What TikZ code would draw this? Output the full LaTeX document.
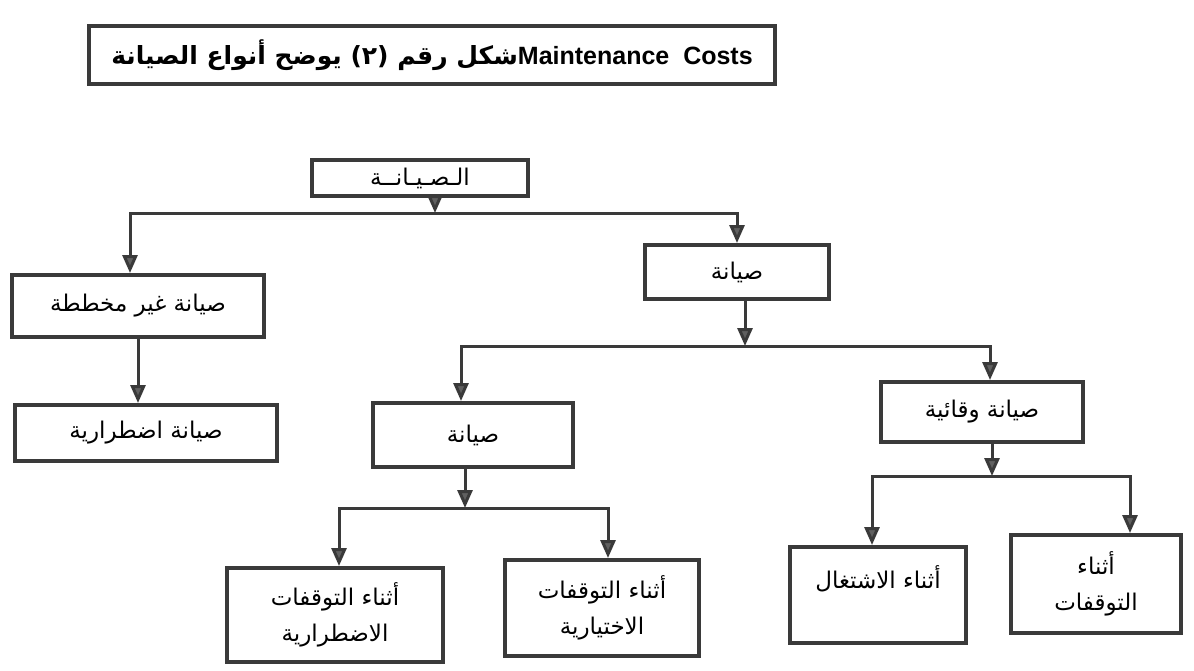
\documentclass[tikz,border=0pt]{standalone}
\usepackage{fontspec}
\setmainfont{Liberation Sans}
\newfontfamily\arabicfont[Script=Arabic]{DejaVu Sans}
\TeXXeTstate=1
\usetikzlibrary{arrows.meta, positioning}
\definecolor{linegray}{HTML}{3A3A3A}
\definecolor{tipgray}{HTML}{606060}

\begin{document}
\begin{tikzpicture}[x=0.5pt, y=-0.5pt,
    box/.style={draw=linegray, line width=2pt, fill=white, inner sep=3pt, align=center,
        font=\arabicfont\fontsize{11.5}{18}\selectfont},
    link/.style={draw=linegray, line width=1.5pt,
        -{Triangle[width=7.5pt, length=9pt, fill=tipgray]}}]
    \useasboundingbox (0,0) rectangle (1194,670);

    \node[box, minimum width=343pt, minimum height=29pt, font=\arabicfont\bfseries\fontsize{12.5}{16}\selectfont] (title) at (432,55)
        {\beginR\beginL{\rmfamily\bfseries Maintenance\ \ Costs}\endL شكل رقم (٢) يوضح أنواع الصيانة\endR};

    \node[box, minimum width=108pt, minimum height=18pt] (root) at (420,178) {\beginR الـصـيـانــة\endR};
    \node[box, minimum width=126pt, minimum height=31pt] (unplan) at (138,306) {\beginR صيانة غير مخططة\endR};
    \node[box, minimum width=131pt, minimum height=28pt] (emerg) at (146,433) {\beginR صيانة اضطرارية\endR};
    \node[box, minimum width=92pt, minimum height=27pt] (plan) at (737,272) {\beginR صيانة\endR};
    \node[box, minimum width=100pt, minimum height=32pt] (corr) at (473,435) {\beginR صيانة\endR};
    \node[box, minimum width=101pt, minimum height=30pt] (prev) at (982,412) {\beginR صيانة وقائية\endR};
    \node[box, minimum width=108pt, minimum height=47pt] (cemerg) at (335,615)
        {\beginR أثناء التوقفات\endR\\ \beginR الاضطرارية\endR};
    \node[box, minimum width=97pt, minimum height=48pt] (cvol) at (602,608)
        {\beginR أثناء التوقفات\endR\\ \beginR الاختيارية\endR};
    \node[box, minimum width=88pt, minimum height=48pt] (prun) at (878,595)
        {\beginR أثناء الاشتغال\endR\\ \mbox{}};
    \node[box, minimum width=85pt, minimum height=49pt] (pstop) at (1096,584)
        {\beginR أثناء\endR\\ \beginR التوقفات\endR};

    % split points
    \coordinate (j1) at (435,213);
    \coordinate (j2) at (745,346);
    \coordinate (j3) at (465,508);
    \coordinate (j4) at (992,476);

    \draw[link] (root.south -| j1) -- (j1);
    \draw[link] (j1) -| ([xshift=-4pt]unplan.north);
    \draw[link] (j1) -| (plan.north);
    \draw[link] (unplan.south) -- (unplan.south |- emerg.north);

    \draw[link] (plan.south -| j2) -- (j2);
    \draw[link] (j2) -| ([xshift=-6pt]corr.north);
    \draw[link] (j2) -| ([xshift=4pt]prev.north);

    \draw[link] (corr.south -| j3) -- (j3);
    \draw[link] (j3) -| ([xshift=2pt]cemerg.north);
    \draw[link] (j3) -| ([xshift=3pt]cvol.north);

    \draw[link] (prev.south -| j4) -- (j4);
    \draw[link] (j4) -| ([xshift=-3pt]prun.north);
    \draw[link] (j4) -| ([xshift=17pt]pstop.north);
\end{tikzpicture}
\end{document}
